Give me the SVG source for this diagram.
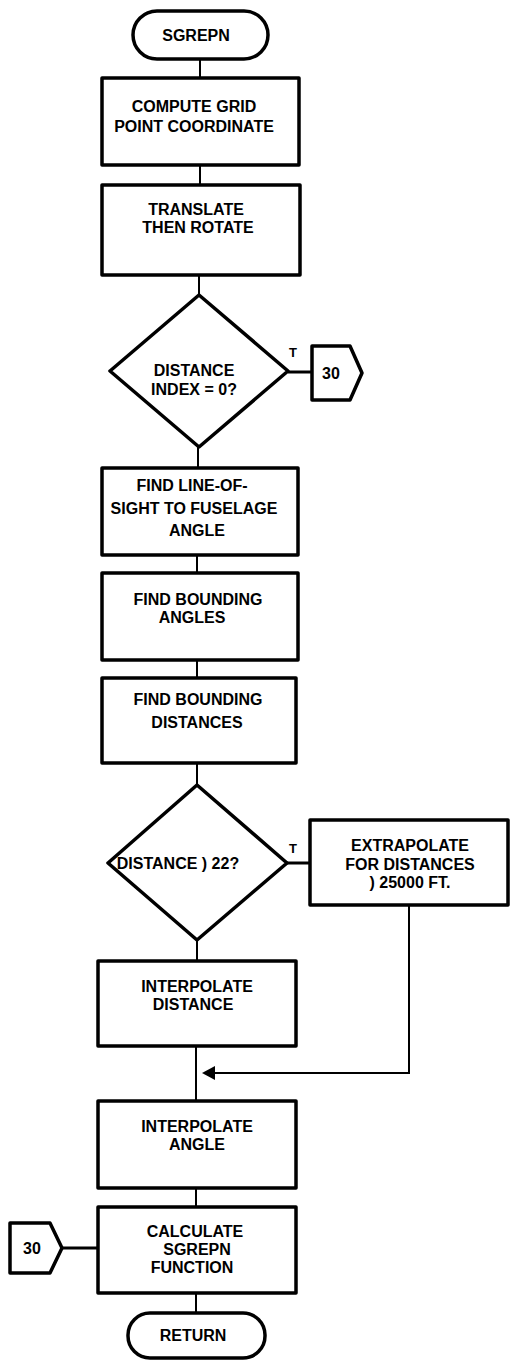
<svg xmlns="http://www.w3.org/2000/svg" width="510" height="1363" viewBox="0 0 510 1363">
<defs>
<style>
.shape{fill:#fff;stroke:#000;stroke-width:3.5;stroke-linejoin:round}
.line{fill:none;stroke:#000;stroke-width:2}
.hline{fill:none;stroke:#000;stroke-width:3}
text{font-family:"Liberation Sans",Arial,sans-serif;font-weight:bold;font-size:16px;fill:#000;text-anchor:middle}
.lbl{font-size:13px}
</style>
</defs>
<rect width="510" height="1363" fill="#fff"/>
<g id="connectors">
<line class="line" x1="200" y1="60" x2="200" y2="78"/>
<line class="line" x1="200" y1="165" x2="200" y2="185"/>
<line class="line" x1="199" y1="275" x2="199" y2="295"/>
<line class="hline" x1="288" y1="372" x2="312" y2="372"/>
<line class="line" x1="198" y1="447" x2="198" y2="468"/>
<line class="line" x1="197" y1="555" x2="197" y2="573"/>
<line class="line" x1="197" y1="660" x2="197" y2="678"/>
<line class="line" x1="197" y1="763" x2="197" y2="785"/>
<line class="hline" x1="287" y1="863" x2="310" y2="863"/>
<line class="line" x1="197" y1="940" x2="197" y2="961"/>
<line class="line" x1="196" y1="1046" x2="196" y2="1101"/>
<polyline class="line" points="409,905 409,1073 215,1073"/>
<path d="M215,1066 L202,1073 L215,1080 Z" fill="#000"/>
<line class="line" x1="196" y1="1188" x2="196" y2="1207"/>
<line class="hline" x1="62" y1="1248" x2="98" y2="1248"/>
<line class="line" x1="196" y1="1293" x2="196" y2="1313"/>
<text class="lbl" x="293" y="357">T</text>
<text class="lbl" x="293" y="853">T</text>
</g>
<g id="start">
<rect class="shape" x="133" y="11" width="135" height="48" rx="24"/>
<text x="196" y="41">SGREPN</text>
</g>
<g id="compute">
<rect class="shape" x="102" y="78" width="197" height="87"/>
<text x="194" y="112">COMPUTE GRID</text>
<text x="194" y="132">POINT COORDINATE</text>
</g>
<g id="translate">
<rect class="shape" x="102" y="185" width="198" height="90"/>
<text x="196" y="215">TRANSLATE</text>
<text x="198" y="233">THEN ROTATE</text>
</g>
<g id="dec1">
<polygon class="shape" points="199,295 288,371 199,447 110,371"/>
<text x="194" y="376">DISTANCE</text>
<text x="194" y="395">INDEX = 0?</text>
</g>
<g id="off1">
<polygon class="shape" points="312,346 350,346 362,373 350,400 312,400"/>
<text x="331" y="379">30</text>
</g>
<g id="los">
<rect class="shape" x="102" y="468" width="196" height="87"/>
<text x="192" y="491">FIND LINE-OF-</text>
<text x="194" y="514">SIGHT TO FUSELAGE</text>
<text x="197" y="536">ANGLE</text>
</g>
<g id="bangles">
<rect class="shape" x="102" y="573" width="196" height="87"/>
<text x="198" y="605">FIND BOUNDING</text>
<text x="192" y="623">ANGLES</text>
</g>
<g id="bdist">
<rect class="shape" x="102" y="678" width="194" height="85"/>
<text x="198" y="705">FIND BOUNDING</text>
<text x="197" y="728">DISTANCES</text>
</g>
<g id="dec2">
<polygon class="shape" points="197,785 287,863 197,940 108,863"/>
<text x="178" y="869">DISTANCE ) 22?</text>
</g>
<g id="extrap">
<rect class="shape" x="310" y="820" width="198" height="85"/>
<text x="410" y="851">EXTRAPOLATE</text>
<text x="410" y="870">FOR DISTANCES</text>
<text x="410" y="888">) 25000 FT.</text>
</g>
<g id="interpd">
<rect class="shape" x="98" y="961" width="198" height="85"/>
<text x="197" y="992">INTERPOLATE</text>
<text x="193" y="1010">DISTANCE</text>
</g>
<g id="interpa">
<rect class="shape" x="98" y="1101" width="198" height="87"/>
<text x="197" y="1132">INTERPOLATE</text>
<text x="197" y="1150">ANGLE</text>
</g>
<g id="calc">
<rect class="shape" x="98" y="1207" width="198" height="86"/>
<text x="195" y="1237">CALCULATE</text>
<text x="197" y="1255">SGREPN</text>
<text x="192" y="1273">FUNCTION</text>
</g>
<g id="off2">
<polygon class="shape" points="10,1223 50,1223 62,1248 50,1273 10,1273"/>
<text x="32" y="1254">30</text>
</g>
<g id="return">
<rect class="shape" x="128" y="1313" width="137" height="45" rx="22"/>
<text x="193" y="1341">RETURN</text>
</g>
</svg>
